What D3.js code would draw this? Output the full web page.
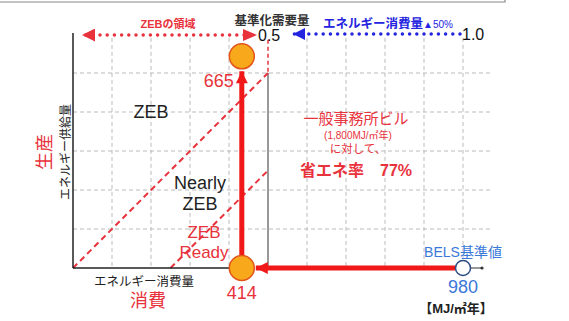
<!DOCTYPE html>
<html>
<head>
<meta charset="utf-8">
<script src="https://cdn.jsdelivr.net/npm/d3@7"></script>
<style>
  body { margin: 0; background: #fff; }
  svg { display: block; font-family: "Liberation Sans", "Noto Sans CJK JP", sans-serif; }
</style>
</head>
<body>
<svg width="569" height="321"></svg>
<script>
// normalized demand axis (基準化需要量)
const gridX = [0.1, 0.2, 0.3, 0.4, 0.6, 0.7, 0.8, 0.9, 1.0];
const gridY = [0.1, 0.2, 0.3, 0.4, 0.5];
const boundaries = [0, 0.25]; // ZEB line, Nearly ZEB line (offset in x)

// MJ/m2 values
const baseline = 980;       // BELS基準値
const consumption = 414;    // 消費
const production = 665;     // 生産

const red = "#e8323c";
const blue = "#3a78d8";

const svg = d3.select("svg");

// scales
const x = d3.scaleLinear().domain([0, 1]).range([73, 463]);
const y = d3.scaleLinear().domain([0, 0.6]).range([268, 34]);
const xMJ = d3.scaleLinear().domain([0, baseline]).range([80, 463]);
const yMJ = d3.scaleLinear().domain([0, 735]).range([268, 34]);

// arrow markers
const defs = svg.append("defs");
function marker(id, color, w, h) {
  defs.append("marker")
    .attr("id", id)
    .attr("viewBox", "0 -5 10 10")
    .attr("refX", 10).attr("refY", 0)
    .attr("markerUnits", "userSpaceOnUse")
    .attr("markerWidth", w).attr("markerHeight", h)
    .attr("orient", "auto")
    .append("path").attr("d", "M0,-5L10,0L0,5Z").attr("fill", color);
}
marker("redHead", red, 15, 13);
marker("blueHead", "#2323e0", 13, 12);
marker("bigRed", "#f01818", 14, 12);

// top frame line
svg.append("path").attr("d", "M0,2H505V-1").attr("fill", "none").attr("stroke", "#888").attr("stroke-width", 1.2);

// grid
const grid = svg.append("g").attr("stroke", "#bbb").attr("stroke-dasharray", "4,3").attr("stroke-width", 1);
grid.selectAll("line.v").data(gridX).enter().append("line")
  .attr("x1", d => x(d)).attr("x2", d => x(d))
  .attr("y1", y(0.59)).attr("y2", y(0));
grid.selectAll("line.h").data(gridY).enter().append("line")
  .attr("x1", x(0)).attr("x2", x(1.07))
  .attr("y1", d => y(d)).attr("y2", d => y(d));

// 0.5 line: red dashed above ZEB line, grey below
svg.append("line").attr("x1", x(0.5)).attr("x2", x(0.5)).attr("y1", y(0.585)).attr("y2", y(0.5))
  .attr("stroke", red).attr("stroke-width", 1.5).attr("stroke-dasharray", "4,3");
svg.append("line").attr("x1", x(0.5)).attr("x2", x(0.5)).attr("y1", y(0.5)).attr("y2", y(0))
  .attr("stroke", "#777").attr("stroke-width", 1.5);

// diagonal boundaries
svg.append("g").selectAll("line").data(boundaries).enter().append("line")
  .attr("x1", d => x(d)).attr("y1", y(0))
  .attr("x2", x(0.5)).attr("y2", d => y(0.5 - d))
  .attr("stroke", red).attr("stroke-width", 2).attr("stroke-dasharray", "6,4");

// axes
svg.append("line").attr("x1", x(0)).attr("x2", x(0)).attr("y1", 33).attr("y2", y(0))
  .attr("stroke", "#222").attr("stroke-width", 1.5);
svg.append("line").attr("x1", x(0)).attr("x2", xMJ(consumption)).attr("y1", y(0)).attr("y2", y(0))
  .attr("stroke", "#222").attr("stroke-width", 1.5);

// dotted arrows at top
svg.append("line").attr("x1", x(0.5) - 24).attr("x2", x(0) + 9).attr("y1", 35).attr("y2", 35)
  .attr("stroke", red).attr("stroke-width", 3.5).attr("stroke-linecap", "round")
  .attr("stroke-dasharray", "0,7.2").attr("marker-end", "url(#redHead)");
svg.append("path")
  .attr("d", `M${x(0.5) - 25},${29}L${x(0.5) - 11},35L${x(0.5) - 25},41Z`)
  .attr("fill", red);
svg.append("line").attr("x1", x(1) - 3).attr("x2", x(0.5) + 25).attr("y1", 34).attr("y2", 34)
  .attr("stroke", "#2323e0").attr("stroke-width", 3.5).attr("stroke-linecap", "round")
  .attr("stroke-dasharray", "0,7.2").attr("marker-end", "url(#blueHead)");

svg.append("text").attr("x", x(0.5) - 10).attr("y", 41).attr("font-size", 16).attr("fill", "#111").text("0.5");
svg.append("text").attr("x", x(1) - 1).attr("y", 40).attr("font-size", 16).attr("fill", "#111").text("1.0");
svg.append("text").attr("x", 168).attr("y", 28).attr("text-anchor", "middle").attr("font-size", 11)
  .attr("font-weight", "bold").attr("fill", red).text("ZEBの領域");
svg.append("text").attr("x", 272).attr("y", 25).attr("text-anchor", "middle").attr("font-size", 12.5)
  .attr("font-weight", "bold").attr("fill", "#333").text("基準化需要量");
const bt = svg.append("text").attr("x", 323).attr("y", 28).attr("font-size", 12.5)
  .attr("font-weight", "bold").attr("fill", "#2323e0");
bt.append("tspan").text("エネルギー消費量");
bt.append("tspan").attr("font-size", 10).attr("font-weight", "normal").text("▲50%");

// region labels
const lab = svg.append("g").attr("text-anchor", "middle").attr("font-size", 18);
lab.append("text").attr("x", 151).attr("y", 118).attr("fill", "#222").text("ZEB");
lab.append("text").attr("x", 200).attr("y", 189).attr("fill", "#222").text("Nearly");
lab.append("text").attr("x", 200).attr("y", 210).attr("fill", "#222").text("ZEB");
lab.append("text").attr("x", 204).attr("y", 238).attr("font-size", 17).attr("fill", red).text("ZEB");
lab.append("text").attr("x", 204).attr("y", 258).attr("font-size", 17).attr("fill", red).text("Ready");

// axis titles
svg.append("text").attr("transform", "translate(70,152) rotate(-90)").attr("text-anchor", "middle")
  .attr("font-size", 12).attr("fill", "#222").text("エネルギー供給量");
svg.append("text").attr("transform", "translate(51,152) rotate(-90)").attr("text-anchor", "middle")
  .attr("font-size", 18).attr("fill", red).text("生産");
svg.append("text").attr("x", 144).attr("y", 286).attr("text-anchor", "middle")
  .attr("font-size", 12.5).attr("fill", "#222").text("エネルギー消費量");
svg.append("text").attr("x", 148).attr("y", 307).attr("text-anchor", "middle")
  .attr("font-size", 18).attr("fill", red).text("消費");

// thick red arrows
svg.append("line").attr("x1", xMJ(baseline) - 8).attr("x2", xMJ(consumption) + 14)
  .attr("y1", yMJ(0)).attr("y2", yMJ(0))
  .attr("stroke", "#f01818").attr("stroke-width", 5).attr("marker-end", "url(#bigRed)");
svg.append("line").attr("x1", xMJ(consumption)).attr("x2", xMJ(consumption))
  .attr("y1", yMJ(0) - 12).attr("y2", yMJ(production) + 15)
  .attr("stroke", "#f01818").attr("stroke-width", 5).attr("marker-end", "url(#bigRed)");

// baseline point
svg.append("line").attr("x1", xMJ(baseline) + 7).attr("x2", xMJ(baseline) + 19)
  .attr("y1", yMJ(0)).attr("y2", yMJ(0)).attr("stroke", "#333").attr("stroke-width", 1);
svg.append("circle").attr("cx", xMJ(baseline) + 19).attr("cy", yMJ(0)).attr("r", 1.6).attr("fill", "#333");
svg.append("circle").attr("cx", xMJ(baseline)).attr("cy", yMJ(0)).attr("r", 7.5)
  .attr("fill", "#fff").attr("stroke", "#2b4a80").attr("stroke-width", 1.5);

// result points
const pts = [[consumption, 0], [consumption, production]];
svg.append("g").selectAll("circle").data(pts).enter().append("circle")
  .attr("cx", d => xMJ(d[0])).attr("cy", d => yMJ(d[1])).attr("r", 12.5)
  .attr("fill", "#f7a81b").attr("stroke", "#e2541a").attr("stroke-width", 1.5);

// value labels
svg.append("text").attr("x", xMJ(consumption)).attr("y", 299).attr("text-anchor", "middle")
  .attr("font-size", 18).attr("fill", red).text(consumption);
svg.append("text").attr("x", xMJ(consumption) - 8).attr("y", 87).attr("text-anchor", "end")
  .attr("font-size", 18).attr("fill", red).text(production);
svg.append("text").attr("x", xMJ(baseline)).attr("y", 257).attr("text-anchor", "middle")
  .attr("font-size", 14).attr("fill", blue).text("BELS基準値");
svg.append("text").attr("x", xMJ(baseline)).attr("y", 293).attr("text-anchor", "middle")
  .attr("font-size", 18).attr("fill", blue).text(baseline);
svg.append("text").attr("x", 456).attr("y", 313).attr("text-anchor", "middle")
  .attr("font-size", 13).attr("font-weight", "bold").attr("fill", "#222").text("【MJ/㎡年】");

// note block
const note = svg.append("g").attr("text-anchor", "middle").attr("fill", red);
note.append("text").attr("x", 356).attr("y", 124).attr("font-size", 15).text("一般事務所ビル");
note.append("text").attr("x", 358).attr("y", 139).attr("font-size", 10).text("(1,800MJ/㎡年)");
note.append("text").attr("x", 358).attr("y", 153).attr("font-size", 11.5).text("に対して、");
note.append("text").attr("x", 356).attr("y", 176).attr("font-size", 16).attr("font-weight", "bold")
  .text("省エネ率　77%");
</script>
</body>
</html>
